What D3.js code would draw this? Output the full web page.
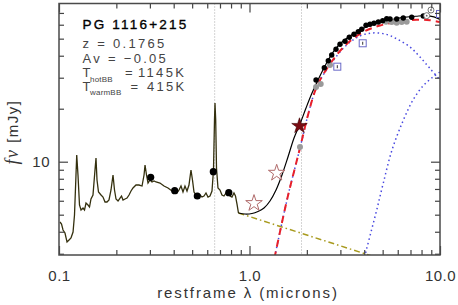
<!DOCTYPE html>
<html>
<head>
<meta charset="utf-8">
<script src="https://cdn.jsdelivr.net/npm/d3@7"></script>
<style>
  body { margin: 0; background: #fff; }
  svg { display: block; font-family: "Liberation Sans", Arial, sans-serif; }
</style>
</head>
<body>
<div id="chart"></div>
<script>
// Optical spectrum (restframe microns, mJy)
const specLam = [0.1012,0.1031,0.1050,0.1075,0.1102,0.1129,0.1156,0.1185,0.1206,0.1228,
  0.1239,0.1258,0.1281,0.1305,0.1337,0.1361,0.1386,0.1420,0.1446,0.1472,
  0.1508,0.1545,0.1564,0.1583,0.1612,0.1662,0.1702,0.1744,0.1786,0.1830,
  0.1875,0.1921,0.1956,0.1992,0.2041,0.2091,0.2129,0.2168,0.2221,0.2275,
  0.2331,0.2388,0.2446,0.2536,0.2630,0.2728,0.2795,0.2829,0.2880,0.2933,
  0.3005,0.3078,0.3154,0.3231,0.3390,0.3558,0.3734,0.3919,0.4063,0.4163,
  0.4265,0.4369,0.4476,0.4585,0.4698,0.4812,0.4930,0.5020,0.5113,0.5238,
  0.5366,0.5497,0.5631,0.5769,0.5910,0.6055,0.6203,0.6355,0.6471,0.6550,
  0.6590,0.6646,0.6711,0.6832,0.6999,0.7170,0.7346,0.7525,0.7709,0.7898,
  0.8091,0.8288,0.8440,0.8594,0.8751];
const specFlux = [4.545,4.426,4.091,3.934,3.497,3.590,3.686,3.987,4.981,8.403,
  10.92,8.403,5.675,5.315,5.456,5.315,5.826,5.675,5.528,6.139,
  6.469,8.971,10.50,7.870,6.727,6.469,6.301,5.902,5.902,6.059,
  6.906,8.403,6.906,6.139,5.980,6.218,6.385,6.059,6.139,6.218,
  6.469,6.816,7.089,7.372,7.372,7.276,8.403,9.577,8.403,7.568,
  7.870,7.668,7.768,7.668,7.568,7.276,7.089,6.816,6.727,6.641,
  6.906,7.276,6.727,7.276,6.816,7.372,8.971,7.870,6.727,6.469,
  6.385,6.469,6.301,6.385,6.641,6.301,6.385,6.816,8.971,17.26,
  21.55,17.26,9.209,7.089,6.906,6.469,6.385,6.641,6.727,6.385,
  6.301,6.641,6.385,5.751,5.111];

// Total model
const modelLam = [0.8751,0.9471,1.0306,1.108,1.1915,1.281,1.378,1.481,1.592,1.713,1.841,1.980,2.129,2.289,2.522,2.777,3.059,3.370,3.803,4.290,4.842,5.598,6.471,7.482,8.444,9.301,10.0];
const modelFlux = [5.111,5.045,5.079,5.212,5.456,5.980,6.906,8.403,10.63,13.64,16.38,20.19,24.57,29.12,35.90,42.56,47.86,51.78,56.01,59.40,62.19,64.27,65.98,67.02,67.55,66.43,64.27];

// Hot BB, warm BB, their sum, accretion disk power law
const hotLam = [1.312,1.573,1.841,2.028,2.253,2.646,3.237,3.803,4.395,5.144,5.946,6.957,7.852,8.862,10.0];
const hotFlux = [2.425,6.059,11.96,18.42,26.58,35.43,46.04,51.78,53.87,53.17,49.81,44.85,39.34,33.84,29.12];
const warmLam = [3.895,4.039,4.290,4.653,5.040,5.598,6.394,7.216,8.144,9.190,10.0];
const warmFlux = [2.271,2.912,3.784,5.315,7.568,11.65,17.03,22.41,26.93,30.29,32.34];
const sumLam = [1.312,1.573,1.841,2.028,2.253,2.646,3.237,3.957,4.842,5.926,7.546,8.862,10.0];
const sumFlux = [2.425,6.059,11.96,18.42,26.58,35.90,46.64,54.57,59.40,62.19,64.02,63.60,62.19];
const plLam = [0.8751,4.395];
const plFlux = [5.111,2.912];

// Photometry
const optLam = [0.3029,0.4049,0.5321,0.6457,0.7785];
const optFlux = [8.155,6.843,6.385,8.774,6.667];
const nirLam = [2.235,2.470,2.592,2.701,2.845,2.986,3.172,3.341,3.537,3.725,3.882,4.089,4.290,4.503,4.745,5.004,5.251,5.465,5.926,6.416,7.103,8.172];
const nirFlux = [29.12,34.20,37.49,40.40,43.52,46.45,48.31,50.91,52.96,54.79,56.54,59.57,60.35,61.15,62.19,63.26,64.94,64.69,64.69,65.55,66.16,67.27];
const grayLam = [1.841,2.235,2.365,2.646,5.206,5.578,5.926,6.295,6.687];
const grayFlux = [12.12,26.58,27.64,35.43,62.44,62.19,61.54,62.19,62.44];
const sqLam = [2.890,3.929,10.0];
const sqFlux = [34.66,47.07,69.06];
const circLam = [8.968,8.516];
const circFlux = [72.76,67.55];
const starOpenLam = [1.056,1.389];
const starOpenFlux = [5.803,8.626];
const starFilledLam = [1.830];
const starFilledFlux = [15.96];
const emLines = [0.6563,1.875];

// Ticks
const xMajor = [0.1,1,10];
const xMajorLabels = ["0.1","1.0","10.0"];
const xMinor = [0.2,0.3,0.4,0.5,0.6,0.7,0.8,0.9,2,3,4,5,6,7,8,9];
const yMajor = [10];
const yMinor = [3,4,5,6,7,8,9,20,30,40,50,60,70];

const zip = (a, b) => a.map((v, i) => ({ x: v, y: b[i] }));

const width = 458, height = 305;
const margin = { top: 3.5, right: 18, bottom: 50, left: 59 };
const innerWidth = width - margin.left - margin.right;
const innerHeight = height - margin.top - margin.bottom;

const svg = d3.select("#chart").append("svg")
  .attr("width", width).attr("height", height);

const g = svg.append("g").attr("transform", `translate(${margin.left},${margin.top})`);

const x = d3.scaleLog().domain([0.1, 10]).range([0, innerWidth]);
const y = d3.scaleLog().domain([2.951, 79.2]).range([innerHeight, 0]);

g.append("clipPath").attr("id", "clip")
  .append("rect").attr("width", innerWidth).attr("height", innerHeight);

const plot = g.append("g").attr("clip-path", "url(#clip)");

// Emission line markers
plot.selectAll(".em").data(emLines).enter().append("line")
  .attr("x1", d => x(d)).attr("x2", d => x(d))
  .attr("y1", 0).attr("y2", innerHeight)
  .attr("stroke", "#aaa").attr("stroke-width", 1)
  .attr("stroke-dasharray", "1,2");

const line = d3.line().x(d => x(d.x)).y(d => y(d.y));
const smooth = d3.line().x(d => x(d.x)).y(d => y(d.y)).curve(d3.curveCatmullRom);

// Power law
plot.append("path").datum(zip(plLam, plFlux)).attr("d", line)
  .attr("fill", "none").attr("stroke", "#a89a1e").attr("stroke-width", 1.5)
  .attr("stroke-dasharray", "6,3,1.5,3");

// Warm and hot BB
plot.append("path").datum(zip(warmLam, warmFlux)).attr("d", smooth)
  .attr("fill", "none").attr("stroke", "#4848e0").attr("stroke-width", 1.5)
  .attr("stroke-dasharray", "1.5,3");
plot.append("path").datum(zip(hotLam, hotFlux)).attr("d", smooth)
  .attr("fill", "none").attr("stroke", "#4848e0").attr("stroke-width", 1.5)
  .attr("stroke-dasharray", "1.5,3");

// BB sum
plot.append("path").datum(zip(sumLam, sumFlux)).attr("d", smooth)
  .attr("fill", "none").attr("stroke", "#e8202a").attr("stroke-width", 2)
  .attr("stroke-dasharray", "7,5");

// Spectrum
plot.append("path").datum(zip(specLam, specFlux)).attr("d", line)
  .attr("fill", "none").attr("stroke", "#34300e").attr("stroke-width", 1.3);

// Total model
plot.append("path").datum(zip(modelLam, modelFlux)).attr("d", smooth)
  .attr("fill", "none").attr("stroke", "#000").attr("stroke-width", 1.2);

// Gray points
plot.selectAll(".gray").data(zip(grayLam, grayFlux)).enter().append("circle")
  .attr("cx", d => x(d.x)).attr("cy", d => y(d.y)).attr("r", 3)
  .attr("fill", "#9a9a9a");

// Black points
plot.selectAll(".opt").data(zip(optLam, optFlux)).enter().append("circle")
  .attr("cx", d => x(d.x)).attr("cy", d => y(d.y)).attr("r", 3.6)
  .attr("fill", "#000");
plot.selectAll(".nir").data(zip(nirLam, nirFlux)).enter().append("circle")
  .attr("cx", d => x(d.x)).attr("cy", d => y(d.y)).attr("r", 2.7)
  .attr("fill", "#000");

// Open squares with error bars
const sq = plot.selectAll(".sq").data(zip(sqLam, sqFlux)).enter().append("g")
  .attr("transform", d => `translate(${x(d.x)},${y(d.y)})`);
sq.append("rect").attr("x", -3.5).attr("y", -3.5).attr("width", 7).attr("height", 7)
  .attr("fill", "#fff").attr("stroke", "#6a6ac8").attr("stroke-width", 1);
sq.append("line").attr("y1", -1.5).attr("y2", 1.5).attr("stroke", "#333").attr("stroke-width", 1);

// Open circles
const oc = plot.selectAll(".oc").data(zip(circLam, circFlux)).enter().append("g")
  .attr("transform", d => `translate(${x(d.x)},${y(d.y)})`);
oc.append("circle").attr("r", 3).attr("fill", "#fff").attr("stroke", "#666").attr("stroke-width", 0.9);
oc.append("circle").attr("r", 0.9).attr("fill", "#666");

// Stars
const star = d3.symbol().type(d3.symbolStar);
plot.selectAll(".sto").data(zip(starOpenLam, starOpenFlux)).enter().append("path")
  .attr("transform", d => `translate(${x(d.x)},${y(d.y)})`)
  .attr("d", star.size(85)())
  .attr("fill", "#fff").attr("stroke", "#b06a6a").attr("stroke-width", 1);
plot.selectAll(".stf").data(zip(starFilledLam, starFilledFlux)).enter().append("path")
  .attr("transform", d => `translate(${x(d.x)},${y(d.y)})`)
  .attr("d", star.size(75)())
  .attr("fill", "#7a0c12").attr("stroke", "#3a0000").attr("stroke-width", 0.6);

// Axes (inward ticks on all four sides)
const axisColor = "#444";
function styleAxis(sel) {
  sel.select(".domain").remove();
  sel.selectAll(".tick line").attr("stroke", axisColor).attr("stroke-width", 1.2);
  sel.selectAll("text").attr("fill", "#333").style("font-size", "15px")
    .style("letter-spacing", "0.5px").style("font-family", "'Liberation Sans', Arial, sans-serif");
}

g.append("g").attr("transform", `translate(0,${innerHeight})`)
  .call(d3.axisBottom(x).tickValues(xMinor).tickSize(-5).tickFormat("")).call(styleAxis);
g.append("g").attr("transform", `translate(0,${innerHeight})`)
  .call(d3.axisBottom(x).tickValues(xMajor).tickSize(-9).tickPadding(15)
    .tickFormat((d, i) => xMajorLabels[i])).call(styleAxis);
g.append("g")
  .call(d3.axisTop(x).tickValues(xMinor).tickSize(-5).tickFormat("")).call(styleAxis);
g.append("g")
  .call(d3.axisTop(x).tickValues(xMajor).tickSize(-9).tickFormat("")).call(styleAxis);

g.append("g")
  .call(d3.axisLeft(y).tickValues(yMinor).tickSize(-5).tickFormat("")).call(styleAxis);
g.append("g")
  .call(d3.axisLeft(y).tickValues(yMajor).tickSize(-9).tickPadding(9)
    .tickFormat(d3.format("d"))).call(styleAxis);
g.append("g").attr("transform", `translate(${innerWidth},0)`)
  .call(d3.axisRight(y).tickValues(yMinor).tickSize(-5).tickFormat("")).call(styleAxis);
g.append("g").attr("transform", `translate(${innerWidth},0)`)
  .call(d3.axisRight(y).tickValues(yMajor).tickSize(-9).tickFormat("")).call(styleAxis);

// Frame
g.append("rect").attr("width", innerWidth).attr("height", innerHeight)
  .attr("fill", "none").attr("stroke", "#4a4a4a").attr("stroke-width", 1.5);

// Axis titles
svg.append("text")
  .attr("x", 248).attr("y", 298)
  .attr("text-anchor", "middle")
  .attr("fill", "#333")
  .style("font-size", "15px").style("letter-spacing", "1.9px")
  .text("restframe λ (microns)");

const yl = svg.append("text")
  .attr("transform", "translate(18,132) rotate(-90)")
  .attr("text-anchor", "middle")
  .attr("fill", "#333")
  .style("font-size", "15px").style("letter-spacing", "1.5px");
yl.append("tspan").style("font-family", "'Liberation Serif', serif")
  .style("font-style", "italic").style("font-size", "18px").text("fν");
yl.append("tspan").text(" [mJy]");

// Annotation block
const ann = svg.append("g").style("font-size", "13px").attr("fill", "#444")
  .style("letter-spacing", "2.3px");
ann.append("text").attr("x", 82.5).attr("y", 29.3).attr("fill", "#000")
  .style("font-size", "13.5px").style("letter-spacing", "2.2px")
  .attr("stroke", "#000").attr("stroke-width", 0.35)
  .text("PG 1116+215");
ann.append("text").attr("x", 82.5).attr("y", 47.7).attr("xml:space", "preserve").text("z = 0.1765");
ann.append("text").attr("x", 82.5).attr("y", 63.3).attr("xml:space", "preserve").text("Av = \u22120.05");

const t1 = ann.append("text").attr("y", 77.3);
t1.append("tspan").attr("x", 82.5).text("T");
t1.append("tspan").attr("x", 90).attr("dy", 4.2).style("font-size", "8px").style("letter-spacing", "0.2px").text("hotBB");
t1.append("tspan").attr("x", 125).attr("dy", -4.2).text("=");
t1.append("tspan").attr("x", 138).text("1145K");

const t2 = ann.append("text").attr("y", 90.7);
t2.append("tspan").attr("x", 82.5).text("T");
t2.append("tspan").attr("x", 90).attr("dy", 4.2).style("font-size", "8px").style("letter-spacing", "0.2px").text("warmBB");
t2.append("tspan").attr("x", 130.5).attr("dy", -4.2).text("=");
t2.append("tspan").attr("x", 147).text("415K");
</script>
</body>
</html>
